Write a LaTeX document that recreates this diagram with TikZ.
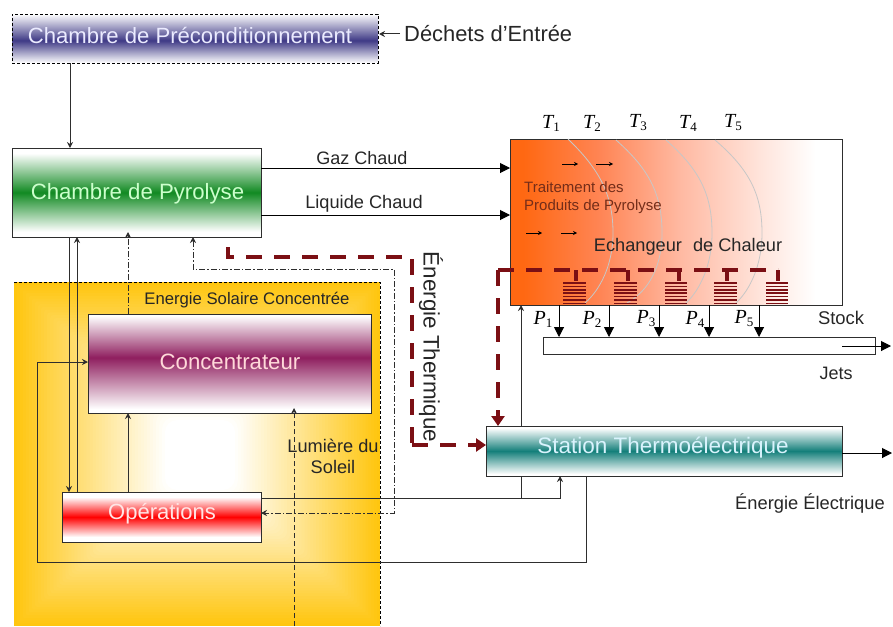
\documentclass[tikz,border=0pt]{standalone}
\usepackage{fontspec}
\setmainfont{Liberation Sans}
\newfontfamily\tmsfont{Liberation Serif}
\usetikzlibrary{arrows.meta}
\definecolor{lineC}{HTML}{2E2E2E}
\definecolor{heatC}{HTML}{7B0F14}
\definecolor{sunC}{HTML}{FFC60F}
\definecolor{precC}{HTML}{3F3A86}
\definecolor{pyroC}{HTML}{118A22}
\definecolor{concC}{HTML}{8F1F5F}
\definecolor{statC}{HTML}{147F7A}
\definecolor{redC}{HTML}{FF0000}
\definecolor{exA}{HTML}{FF6812}
\definecolor{exB}{HTML}{FF8555}
\definecolor{exC}{HTML}{FFB9A2}
\definecolor{exD}{HTML}{FFE4DB}
\newcommand{\fs}[1]{\fontsize{#1}{#1}\selectfont}
\newcommand{\TT}[1]{{\tmsfont\fs{20}\itshape T\raisebox{-3pt}{\upshape\fs{13}#1}}}
\newcommand{\PP}[1]{{\tmsfont\fs{20}\itshape P\raisebox{-3pt}{\upshape\fs{13}#1}}}
\pgfdeclareverticalshading{bandPrec}{100bp}{color(0bp)=(white); color(25bp)=(white); color(48bp)=(precC); color(75bp)=(white); color(100bp)=(white)}
\pgfdeclareverticalshading{bandPyro}{100bp}{color(0bp)=(white); color(28bp)=(white); color(50bp)=(pyroC); color(72bp)=(white); color(100bp)=(white)}
\pgfdeclareverticalshading{bandConc}{100bp}{color(0bp)=(white); color(27bp)=(white); color(53bp)=(concC); color(74bp)=(white); color(100bp)=(white)}
\pgfdeclareverticalshading{bandOper}{100bp}{color(0bp)=(white); color(30bp)=(white); color(50bp)=(redC); color(70bp)=(white); color(100bp)=(white)}
\pgfdeclareverticalshading{bandStat}{100bp}{color(0bp)=(white); color(27bp)=(white); color(50bp)=(statC); color(73bp)=(white); color(100bp)=(white)}
\pgfdeclarehorizontalshading{heatx}{100bp}{color(0bp)=(exA); color(27bp)=(exA); color(38.6bp)=(exB); color(50.6bp)=(exC); color(62.6bp)=(exD); color(71bp)=(white); color(100bp)=(white)}
\tikzset{
  boxn/.style={draw=lineC,line width=1pt,anchor=north west,inner sep=0pt,outer sep=0pt},
  conn/.style={draw=lineC,line width=1pt,-{Stealth[length=6pt,width=6pt]}},
  plain/.style={draw=lineC,line width=1pt},
  bigconn/.style={draw=black,line width=1pt,-{Triangle[length=10pt,width=10pt]}},
  smallconn/.style={draw=black,line width=0.7pt,-{Stealth[length=4pt,width=4pt]}},
  dashdot/.style={draw=lineC,line width=0.8pt,dash pattern=on 6pt off 2pt on 1.5pt off 2pt},
  dashdotarrow/.style={dashdot,{Stealth[length=6pt,width=6pt]}-{Stealth[length=6pt,width=6pt]}},
  dashdotone/.style={dashdot,-{Stealth[length=6pt,width=6pt]}},
  dashconn/.style={draw=lineC,line width=0.9pt,dash pattern=on 5pt off 3pt,-{Stealth[length=6pt,width=6pt]}},
  heat/.style={draw=heatC,line width=3.6pt,dash pattern=on 16pt off 12pt},
  heatarrow/.style={heat,-{Triangle[length=10pt,width=13pt]}},
  stub/.style={draw=heatC,line width=3.4pt},
  coil/.style={draw=heatC,line width=1.5pt},
  curveT/.style={draw=black!22,line width=0.8pt},
  lab/.style={inner sep=0pt,text=black!85},
  dashframe/.style={draw=black,line width=0.7pt,dash pattern=on 3pt off 2pt},
}
\begin{document}
\begin{tikzpicture}[x=1pt,y=-1pt]
\useasboundingbox (0,0) rectangle (893,626);
% solar area
\foreach \i in {0,...,50}{
  \pgfmathsetmacro{\t}{\i/50}
  \pgfmathsetmacro{\p}{100*(1-\t)}
  \pgfmathsetmacro{\xa}{14+\t*(165-14)}
  \pgfmathsetmacro{\xb}{380-\t*(380-235)}
  \pgfmathsetmacro{\ya}{282+\t*(420-282)}
  \pgfmathsetmacro{\yb}{626-\t*(626-490)}
  \fill[sunC!\p!white,rounded corners=\t*12pt] (\xa,\ya) rectangle (\xb,\yb);
}
\draw[dashframe] (14,282) -- (380,282) -- (380,626);
% boxes
\node[dashframe,shading=bandPrec,anchor=north west,minimum width=366pt,minimum height=49pt,inner sep=0pt,outer sep=0pt] (prec) at (12,14) {};
\node[text=white!92!blue,font=\fs{22.1}] (prect) at (190,35) {Chambre de Préconditionnement};
\node[boxn,shading=bandPyro,minimum width=249pt,minimum height=89pt] (pyro) at (12,148) {};
\node[text=green!20!white,font=\fs{22.2}] (pyrot) at (137.5,194) {Chambre de Pyrolyse};
\node[boxn,shading=bandConc,minimum width=283pt,minimum height=99pt] (conc) at (88,314) {};
\node[text=pink!60!white,font=\fs{22.2}] (conct) at (230,362) {Concentrateur};
\node[boxn,shading=bandOper,minimum width=199pt,minimum height=50pt] (oper) at (62,492) {};
\node[text=white!90!red,font=\fs{22}] (opert) at (162,514) {Opérations};
\node[boxn,shading=bandStat,minimum width=356pt,minimum height=50pt] (stat) at (486,426) {};
\node[text=cyan!15!white,font=\fs{22.5}] (statt) at (663,448) {Station Thermoélectrique};
% exchanger
\node[boxn,shading=heatx,minimum width=332pt,minimum height=166pt] (exch) at (510,139) {};
\draw[curveT] (568,139) .. controls (600,170) and (613,195) .. (613,233) .. controls (613,265) and (600,290) .. (585,303);
\draw[curveT] (616,140) .. controls (650,170) and (662,195) .. (662,233) .. controls (662,265) and (650,290) .. (627,303);
\draw[curveT] (666,140) .. controls (700,170) and (712,195) .. (712,233) .. controls (712,265) and (700,290) .. (686,303);
\draw[curveT] (715,140) .. controls (750,170) and (762,195) .. (762,233) .. controls (762,265) and (750,290) .. (736,303);
% coils
\foreach \xa/\xb in {563/586,614/637,665/687,714/737,766/788}{
  \foreach \yy in {283,286.4,...,304}{\draw[coil] (\xa,\yy) -- (\xb,\yy);}
}
% stock bar
\node[draw=lineC,line width=1pt,fill=white,anchor=north west,minimum width=332pt,minimum height=17pt,inner sep=0pt,outer sep=0pt] (bar) at (543,337) {};
% texts
\node[lab,anchor=west,font=\fs{21.9}] (dech) at (404,34) {Déchets d'Entrée};
\node[lab,font=\fs{18}] (gaz) at (362,158) {Gaz Chaud};
\node[lab,font=\fs{18.2}] (liq) at (364,204) {Liquide Chaud};
\node[lab,font=\fs{16.7}] (sol) at (247,300) {Energie Solaire Concentrée};
\node[lab,rotate=-90,font=\fs{22.4}] (ether) at (431,347) {Énergie Thermique};
\node[lab,font=\fs{18.2},align=center] (lum) at (333,456) {Lumière du\\[3pt]Soleil};
\node[lab,font=\fs{18.3}] (eelec) at (810,503) {Énergie Électrique};
\node[lab,anchor=west,font=\fs{15},text={rgb,255:red,115;green,45;blue,25},align=left] (trait) at (524,198) {Traitement des\\[3pt]Produits de Pyrolyse};
\node[lab,font=\fs{18.2}] (echt) at (688,247) {Echangeur\,\, de Chaleur};
\node[lab,font=\fs{18.4}] (stock) at (841,318) {Stock};
\node[lab,font=\fs{18}] (jets) at (836,373) {Jets};
\foreach \n/\x/\lbl in {t1/551/1,t2/592/2,t3/638/3,t4/688/4,t5/733/5}{
  \node[lab,text=black] (\n) at (\x,123) {\TT{\lbl}};
}
\foreach \n/\x/\lbl in {p1/543/1,p2/592/2,p3/646/3,p4/695/4,p5/744/5}{
  \node[lab,text=black] (\n) at (\x,319) {\PP{\lbl}};
}
% connectors
\coordinate (dechS) at (400,34);
\coordinate (precE) at (379,34);
\draw[conn] (dechS) -- (precE);
\draw[conn] (70,0 |- prec.south) -- (70,0 |- pyro.north);
\draw[bigconn] (pyro.north east |- 0,168) -- (exch.north west |- 0,168);
\draw[bigconn] (pyro.north east |- 0,215) -- (exch.north west |- 0,215);
\draw[conn] (69,0 |- pyro.south) -- (69,0 |- oper.north);
\draw[conn] (77,0 |- oper.north) -- (77,0 |- pyro.south);
\draw[conn] (128,0 |- oper.north) -- (128,0 |- conc.south);
\draw[dashdotone] (128,0 |- conc.north) -- (128,232);
\draw[dashdotarrow] (193,0 |- pyro.south) |- (394,269) |- (oper.east |- 0,513);
\draw[dashconn] (294,626) -- (294,408);
\draw[conn] (586,0 |- stat.south) |- (37,562) |- (conc.west |- 0,362);
\draw[conn] (oper.north east |- 0,498) -| (560,0 |- stat.south);
\draw[plain] (521,498) -- (521,0 |- stat.south);
\draw[conn] (521,0 |- stat.north) -- (521,0 |- exch.south);
\draw[bigconn] (stat.east |- 0,453) -- (892,453);
% heat lines
\draw[heat] (228,247) -- (228,257) -- (412,257) -- (412,445);
\draw[heatarrow] (412,445) -- (stat.west |- 0,445);
\draw[heat] (498,270) -- (778,270);
\draw[heatarrow] (498,270) -- (498,0 |- stat.north);
\foreach \x in {576,628,679,727,778}{\draw[stub] (\x,270) -- (\x,281);}
% product arrows
\foreach \x in {559,609,659,709,759}{\draw[bigconn] (\x,0 |- exch.south) -- (\x,0 |- bar.north);}
\draw[bigconn] (842,346) -- (891,346);
\draw[smallconn] (562,164) -- (578,164);
\draw[smallconn] (596,164) -- (613,164);
\draw[smallconn] (526,233) -- (542,233);
\draw[smallconn] (561,233) -- (577,233);
\end{tikzpicture}
\end{document}
